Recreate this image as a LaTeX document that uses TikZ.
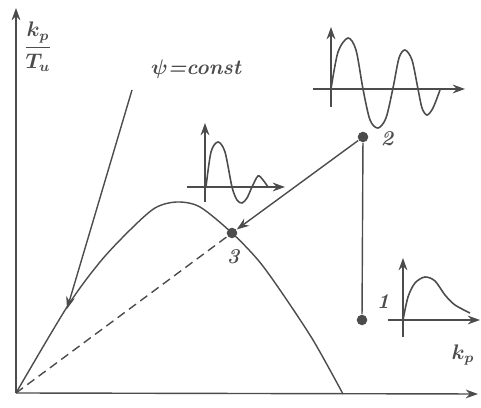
\documentclass[tikz,border=0pt]{standalone}
\usepackage{bm}
\usetikzlibrary{arrows.meta,positioning}
\begin{document}
\begin{tikzpicture}[
    x=0.02cm,y=-0.02cm,
    >={Stealth[length=7pt,width=5pt]},
    line width=0.8pt,
    color=black!70,
    font=\large\bfseries\itshape,
    dot/.style={
        circle,
        fill,
        inner sep=0pt,
        minimum size=6pt
    },
    wave/.style={line width=0.9pt}
]
\useasboundingbox (0,0) rectangle (481,408);

% axes
\coordinate (O) at (16,393);
\draw[->] (O) -- (16,8);
\draw[->] (O) -- (478,394);
\node (ylab) at (38,47) {$\bm{\displaystyle\frac{k_p}{T_u}}$};
\node (xlab) at (463,355) {$\bm{k_p}$};

% stability boundary
\draw plot[smooth] coordinates {(16,393) (67,307) (100,262) (130,230)
    (155,208) (177,202) (200,207) (232,233) (258,260) (280,290)
    (313,340) (343,394)};

% operating points
\node[dot] (p1) at (362,320) {};
\node[dot] (p2) at (363,137) {};
\node[dot] (p3) at (232,233) {};
\node (l1) at (383,302) {1};
\node (l2) at (387,139) {2};
\node (l3) at (233,257) {3};

\draw (p2) -- (p1);
\draw[->] (p2) -- (p3);
\draw[dash pattern=on 5pt off 3pt] (O) -- (p3);

% psi = const
\coordinate (psitop) at (132,90);
\coordinate (psiend) at (67,309);
\draw[->] (psitop) -- (psiend);
\node (psi) at (196,69) {$\bm{\psi}$=const};

% response at point 2
\draw[->] (331,107) -- (331,27);
\draw[->] (313,89) -- (465,89);
\draw[wave] plot[smooth] coordinates {(331,89) (338,52) (348,38) (356,50)
    (363,89) (370,120) (378,128) (386,118) (393,88) (399,58) (405,50)
    (412,60) (418,89) (422,108) (427,115) (433,108) (440,90)};

% response at point 3
\draw[->] (205,202) -- (205,123);
\draw[->] (187,187) -- (285,187);
\draw[wave] plot[smooth] coordinates {(206,187) (211,152) (218,142)
    (225,152) (232,187) (237,200) (242,203) (247,198) (252,187)
    (258,176) (263,180) (268,187)};

% response at point 1
\draw[->] (403,337) -- (403,258);
\draw[->] (388,320) -- (480,320);
\draw[wave] plot[smooth] coordinates {(403,320) (408,297) (415,283)
    (425,277) (435,281) (445,295) (455,305) (470,313)};

\end{tikzpicture}
\end{document}
